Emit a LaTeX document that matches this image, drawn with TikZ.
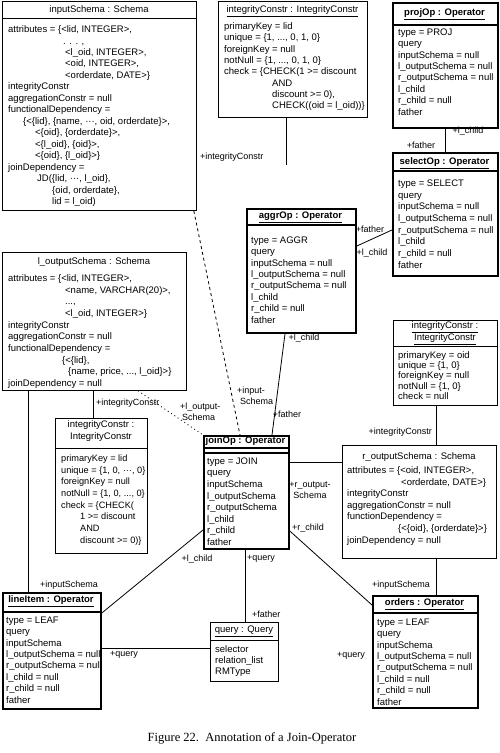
\documentclass[tikz,border=0pt]{standalone}
\usepackage{fontspec}
\setmainfont{Liberation Sans}
\newfontfamily\capfont{Liberation Serif}
\usepackage{tikz}
\usetikzlibrary{calc,positioning}
\tikzset{
  objbox/.style={draw,line width=0.8pt,anchor=north west,inner sep=0pt},
  opbox/.style={objbox,line width=1.8pt},
  objtitle/.style={inner sep=0pt,font=\fontsize{9.5}{12}\selectfont,align=center},
  optitle/.style={inner sep=0pt,font=\fontsize{9.5}{12}\selectfont\bfseries},
  attrs/.style={align=left,anchor=north west,inner sep=0pt,
    font=\fontsize{9.5}{#1}\selectfont},
  attrs/.default=11.5,
  link/.style={line width=0.8pt},
  oplink/.style={line width=1.6pt},
  role/.style={inner sep=0pt,font=\fontsize{9}{11}\selectfont,align=left}
}

\begin{document}
\begin{tikzpicture}[x=1pt,y=-1pt]
  \useasboundingbox (0,0) rectangle (500,753);

  % input schema of the join
  \node[objbox,minimum width=194pt,minimum height=209pt] (inschema) at (2,1) {};
  \node[objtitle] (inschematitle) at (99,10) {inputSchema : Schema};
  \draw[link] (inschema.west |- 0,18) -- (inschema.east |- 0,18);
  \node[attrs=11.47] (inschemaattr) at (8,25.5) {attributes = \{<lid, INTEGER>,\\
    \hspace*{55pt}. . . ,\\
    \hspace*{57pt}<l\_oid, INTEGER>,\\
    \hspace*{57pt}<oid, INTEGER>,\\
    \hspace*{57pt}<orderdate, DATE>\}\\
    integrityConstr\\
    aggregationConstr = null\\
    functionalDependency =\\
    \hspace*{15pt}\{<\{lid\}, \{name, ···, oid, orderdate\}>,\\
    \hspace*{27pt}<\{oid\}, \{orderdate\}>,\\
    \hspace*{27pt}<\{l\_oid\}, \{oid\}>,\\
    \hspace*{27pt}<\{oid\}, \{l\_oid\}>\}\\
    joinDependency =\\
    \hspace*{29pt}JD(\{lid, ···, l\_oid\},\\
    \hspace*{44pt}\{oid, orderdate\},\\
    \hspace*{44pt}lid = l\_oid)};

  % its integrity constraints
  \node[objbox,minimum width=149pt,minimum height=116pt] (ictop) at (218,1) {};
  \node[objtitle] (ictoptitle) at (292.5,11) {\underline{integrityConstr : IntegrityConstr}};
  \node[attrs=11.3] (ictopattr) at (224,22.5) {primaryKey = lid\\
    unique = \{1, ..., 0, 1, 0\}\\
    foreignKey = null\\
    notNull = \{1, ..., 0, 1, 0\}\\
    check = \{CHECK(1 >= discount\\
    \hspace*{48pt}AND\\
    \hspace*{48pt}discount >= 0),\\
    \hspace*{48pt}CHECK((oid = l\_oid))\}};
  \coordinate (ictopend) at (286,165);

  % operators
  \node[opbox,minimum width=105pt,minimum height=125pt] (proj) at (392,2) {};
  \node[optitle] (projtitle) at (444.5,14) {\underline{projOp : Operator}};
  \draw[oplink] (proj.west |- 0,25) -- (proj.east |- 0,25);
  \node[attrs=11.4] (projattr) at (398,28.5) {type = PROJ\\ query\\ inputSchema = null\\
    l\_outputSchema = null\\ r\_outputSchema = null\\ l\_child\\ r\_child = null\\ father};

  \node[opbox,minimum width=105pt,minimum height=123pt] (select) at (392,152) {};
  \node[optitle] (selecttitle) at (444.5,163) {\underline{selectOp : Operator}};
  \draw[oplink] (select.west |- 0,171) -- (select.east |- 0,171);
  \node[attrs=11.7] (selectattr) at (398,179.5) {type = SELECT\\ query\\ inputSchema = null\\
    l\_outputSchema = null\\ r\_outputSchema = null\\ l\_child\\ r\_child = null\\ father};

  \node[opbox,minimum width=109pt,minimum height=124pt] (aggr) at (246,208) {};
  \node[optitle] (aggrtitle) at (300.5,217) {\underline{aggrOp : Operator}};
  \draw[oplink] (aggr.west |- 0,225) -- (aggr.east |- 0,225);
  \node[attrs=11.4] (aggrattr) at (251,236.5) {type = AGGR\\ query\\ inputSchema = null\\
    l\_outputSchema = null\\ r\_outputSchema = null\\ l\_child\\ r\_child = null\\ father};

  \node[opbox,minimum width=85pt,minimum height=113pt] (join) at (203,435) {};
  \node[optitle] (jointitle) at (245.5,442) {\underline{joinOp : Operator}};
  \draw[oplink] (join.west |- 0,448) -- (join.east |- 0,448);
  \draw[oplink] (join.west |- 0,453) -- (join.east |- 0,453);
  \node[attrs=11.6] (joinattr) at (207,457.5) {type = JOIN\\ query\\ inputSchema\\
    l\_outputSchema\\ r\_outputSchema\\ l\_child\\ r\_child\\ father};

  % left output schema
  \node[objbox,minimum width=184pt,minimum height=138pt] (lout) at (2,252) {};
  \node[objtitle] (louttitle) at (94,262) {l\_outputSchema : Schema};
  \node[attrs=11.67] (loutattr) at (8,274.5) {attributes = \{<lid, INTEGER>,\\
    \hspace*{57pt}<name, VARCHAR(20)>,\\
    \hspace*{57pt}...,\\
    \hspace*{57pt}<l\_oid, INTEGER>\}\\
    integrityConstr\\
    aggregationConstr = null\\
    functionalDependency =\\
    \hspace*{54pt}\{<\{lid\},\\
    \hspace*{60pt}\{name, price, ..., l\_oid\}>\}\\
    joinDependency = null};

  \node[objbox,minimum width=92pt,minimum height=135pt] (icleft) at (55,418) {};
  \node[objtitle] (iclefttitle) at (101,431) {integrityConstr :\\ IntegrityConstr};
  \draw[link] (icleft.west |- 0,448) -- (icleft.east |- 0,448);
  \node[attrs=11.7,font=\fontsize{9.2}{11.7}\selectfont] (icleftattr) at (61,454.5) {primaryKey = lid\\
    unique = \{1, 0, ···, 0\}\\
    foreignKey = null\\
    notNull = \{1, 0, ..., 0\}\\
    check = \{CHECK(\\
    \hspace*{19pt}1 >= discount\\
    \hspace*{19pt}AND\\
    \hspace*{19pt}discount >= 0)\}};

  % right output schema
  \node[objbox,minimum width=104pt,minimum height=85pt] (icright) at (393,320) {};
  \node[objtitle] (icrighttitle) at (445,333) {\underline{integrityConstr :}\\ \underline{IntegrityConstr}};
  \draw[link] (icright.west |- 0,346) -- (icright.east |- 0,346);
  \node[attrs=10.2] (icrightattr) at (398,351.5) {primaryKey = oid\\ unique = \{1, 0\}\\
    foreignKey = null\\ notNull = \{1, 0\}\\ check = null};

  \node[objbox,minimum width=154pt,minimum height=113pt] (rout) at (342,445) {};
  \node[objtitle] (routtitle) at (419,457) {r\_outputSchema : Schema};
  \node[attrs=11.6] (routattr) at (347,466.5) {attributes = \{<oid, INTEGER>,\\
    \hspace*{54pt}<orderdate, DATE>\}\\
    integrityConstr\\
    aggregationConstr = null\\
    functionDependency =\\
    \hspace*{51pt}\{<\{oid\}, \{orderdate\}>\}\\
    joinDependency = null};

  % leaves and query
  \node[opbox,minimum width=98pt,minimum height=116pt] (lineitem) at (2,592) {};
  \node[optitle] (lineitemtitle) at (51,601) {\underline{lineItem : Operator}};
  \draw[oplink] (lineitem.west |- 0,612) -- (lineitem.east |- 0,612);
  \node[attrs=11.4] (lineitemattr) at (6,616.5) {type = LEAF\\ query\\ inputSchema\\
    l\_outputSchema = null\\ r\_outputSchema = null\\ l\_child = null\\ r\_child = null\\ father};

  \node[objbox,minimum width=68pt,minimum height=59pt] (query) at (210,622) {};
  \node[objtitle] (querytitle) at (244,631) {\underline{query : Query}};
  \draw[link] (query.west |- 0,640) -- (query.east |- 0,640);
  \node[attrs=11] (queryattr) at (215,645.5) {selector\\ relation\_list\\ RMType};

  \node[opbox,minimum width=105pt,minimum height=112pt] (orders) at (372,595) {};
  \node[optitle] (orderstitle) at (424.5,604) {\underline{orders : Operator}};
  \draw[oplink] (orders.west |- 0,613) -- (orders.east |- 0,613);
  \node[attrs=11.4] (ordersattr) at (377,618.5) {type = LEAF\\ query\\ inputSchema\\
    l\_outputSchema = null\\ r\_outputSchema = null\\ l\_child = null\\ r\_child = null\\ father};

  % links
  \draw[link] (ictopend |- ictop.south) -- (ictopend);
  \draw[link] (proj.south) -- (select.north);
  \draw[link] (aggr.east |- 0,246) -- (select.west |- 0,230);
  \draw[link] ($(aggr.south west)+(39,0)$) -- ($(join.north west)+(69,0)$);
  \draw[link,dash pattern=on 3pt off 3pt] ($(inschema.south east)+(-3,0)$) -- ($(join.north west)+(37,0)$);
  \draw[link,dash pattern=on 1pt off 3pt] ($(lout.south west)+(136,0)$) -- (join.north west);
  \draw[link] ($(icleft.north west)+(38,0)$) -- ($(lout.south west)+(91,0)$);
  \draw[link] ($(lineitem.north west)+(26,0)$) -- ($(lout.south west)+(26,0)$);
  \draw[link] (join.west |- 0,530) -- (lineitem.east |- 0,613);
  \draw[link] ($(join.south west)+(42,0)$) -- ($(query.north west)+(35,0)$);
  \draw[link] (lineitem.east |- 0,648) -- (query.west |- 0,648);
  \draw[link] (join.east |- 0,462) -- (rout.west |- 0,462);
  \draw[link] (join.east |- 0,531) -- (orders.west |- 0,605);
  \draw[link] ($(icright.south west)+(43,0)$) -- ($(rout.north west)+(94,0)$);
  \draw[link] ($(orders.north west)+(64,0)$) -- ($(rout.south west)+(94,0)$);

  % role names
  \node[role,anchor=west] (r1) at (200,157) {+integrityConstr};
  \node[role] (r2) at (468,131) {+l\_child};
  \node[role] (r3) at (421,145) {+father};
  \node[role] (r4) at (370,229) {+father};
  \node[role] (r5) at (372,253) {+l\_child};
  \node[role] (r6) at (304,338) {+l\_child};
  \node[role] (r7) at (287,414) {+father};
  \node[role,anchor=west] (r8) at (237,396) {+input-\\ \hspace*{3pt}Schema};
  \node[role,anchor=west] (r9) at (180,412) {+l\_output-\\ \hspace*{2pt}Schema};
  \node[role,anchor=west] (r10) at (96,403) {+integrityConstr};
  \node[role,anchor=west] (r11) at (40,585) {+inputSchema};
  \node[role] (r12) at (197,559) {+l\_child};
  \node[role,anchor=west] (r13) at (247,559) {+query};
  \node[role,anchor=west] (r14) at (252,614) {+father};
  \node[role,anchor=west] (r15) at (110,655) {+query};
  \node[role,align=center] (r16) at (310,490) {+r\_output-\\ Schema};
  \node[role] (r17) at (308,528) {+r\_child};
  \node[role,anchor=east] (r18) at (432,432) {+integrityConstr};
  \node[role,anchor=west] (r19) at (372,585) {+inputSchema};
  \node[role,anchor=west] (r20) at (337,656) {+query};

  \node[inner sep=0pt,font=\capfont\fontsize{12.5}{14}\selectfont] (caption) at (252,738)
    {Figure 22.\ \ Annotation of a Join-Operator};
\end{tikzpicture}
\end{document}
